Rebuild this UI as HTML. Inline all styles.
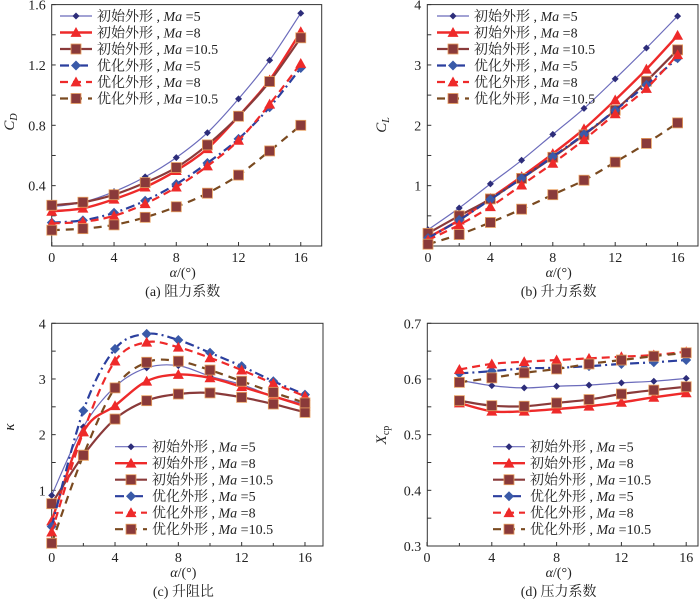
<!DOCTYPE html>
<html><head><meta charset="utf-8"><style>
html,body{margin:0;padding:0;background:#fff}
svg{display:block}
text{font-family:"Liberation Serif","Noto Serif CJK SC","Noto Sans CJK SC",serif;fill:#222}
</style></head><body>
<svg id="chart" width="700" height="599" viewBox="0 0 700 599" xmlns="http://www.w3.org/2000/svg"></svg>
<script>
const alphaA=[0,2,4,6,8,10,12,14,16];
const alphaD=[2,4,6,8,10,12,14,16];
const seriesNames=["初始外形","初始外形","初始外形","优化外形","优化外形","优化外形"];
const machNames=["5","8","10.5","5","8","10.5"];
const cdInit5=[0.26,0.29,0.36,0.458,0.586,0.751,0.975,1.231,1.543];
const cdInit8=[0.23,0.25,0.31,0.39,0.50,0.645,0.86,1.10,1.42];
const cdInit105=[0.27,0.29,0.34,0.42,0.52,0.67,0.86,1.09,1.38];
const cdOpt5=[0.155,0.17,0.22,0.30,0.41,0.55,0.71,0.92,1.18];
const cdOpt8=[0.15,0.16,0.20,0.28,0.39,0.53,0.70,0.94,1.21];
const cdOpt105=[0.105,0.115,0.14,0.19,0.26,0.35,0.47,0.63,0.80];
const clInit5=[0.27,0.63,1.03,1.42,1.85,2.28,2.77,3.28,3.81];
const clInit8=[0.14,0.43,0.79,1.15,1.53,1.94,2.42,2.93,3.49];
const clInit105=[0.21,0.50,0.78,1.12,1.47,1.84,2.25,2.73,3.25];
const clOpt5=[0.13,0.43,0.77,1.12,1.48,1.85,2.25,2.67,3.11];
const clOpt8=[0.10,0.35,0.65,1.01,1.37,1.76,2.19,2.61,3.17];
const clOpt105=[0.03,0.19,0.39,0.61,0.85,1.09,1.39,1.70,2.04];
const kInit5=[0.91,2.14,2.86,3.20,3.24,3.05,2.90,2.69,2.55];
const kInit8=[0.45,2.05,2.52,2.96,3.08,3.02,2.86,2.69,2.51];
const kInit105=[0.76,1.63,2.28,2.61,2.73,2.75,2.67,2.55,2.40];
const kOpt5=[0.35,2.43,3.54,3.81,3.70,3.47,3.23,2.96,2.72];
const kOpt8=[0.25,2.05,3.32,3.66,3.57,3.38,3.16,2.92,2.69];
const kOpt105=[0.05,1.63,2.84,3.30,3.32,3.16,2.96,2.76,2.57];
const xInit5=[0.598,0.588,0.584,0.587,0.589,0.593,0.596,0.601];
const xInit8=[0.557,0.542,0.542,0.546,0.551,0.558,0.567,0.575];
const xInit105=[0.561,0.552,0.551,0.557,0.563,0.573,0.580,0.586];
const xOpt5=[0.610,0.614,0.619,0.620,0.623,0.627,0.630,0.634];
const xOpt8=[0.617,0.627,0.631,0.634,0.637,0.640,0.643,0.649];
const xOpt105=[0.594,0.602,0.611,0.618,0.627,0.634,0.641,0.647];
const xTicks=[0,4,8,12,16];
const xMinorTicks=[2,6,10,14];
const yTicksA=[0.4,0.8,1.2,1.6];
const yTicksB=[1,2,3,4];
const yTicksC=[1,2,3,4];
const yTicksD=[0.3,0.4,0.5,0.6,0.7];

const NS="http://www.w3.org/2000/svg";
const svg=document.getElementById('chart');
function mk(tag,attrs,parent){const e=document.createElementNS(NS,tag);for(const k in attrs)e.setAttribute(k,attrs[k]);(parent||svg).appendChild(e);return e;}
const styles=[
 {c:"#6b6bbb",w:1.2,dash:"",m:"diamond",mc:"#2d2d7a",ms:3.5},
 {c:"#ee2a2a",w:2.4,dash:"",m:"tri",mc:"#ee2a2a",ms:5.5},
 {c:"#8a3a3a",w:2.2,dash:"",m:"sq",mc:"#8a3a3a",ms:5},
 {c:"#2b3f9e",w:2.2,dash:"9,4,2,4",m:"diamond",mc:"#3a5aa8",ms:5},
 {c:"#ee2a2a",w:2.2,dash:"8,5",m:"tri",mc:"#ee2a2a",ms:5.5},
 {c:"#7a4a20",w:2.2,dash:"8,6",m:"sq",mc:"#8a3a3a",ms:5}
];
function marker(g,x,y,s){
 let e;
 if(s.m==="diamond")e=mk('path',{d:`M${x},${y-s.ms}L${x+s.ms},${y}L${x},${y+s.ms}L${x-s.ms},${y}Z`,fill:s.mc},g);
 else if(s.m==="tri")e=mk('path',{d:`M${x},${y-s.ms}L${x+s.ms},${y+s.ms*0.8}L${x-s.ms},${y+s.ms*0.8}Z`,fill:s.mc},g);
 else e=mk('rect',{x:x-s.ms,y:y-s.ms,width:2*s.ms,height:2*s.ms,fill:s.mc,stroke:"#e8a060","stroke-width":0.8},g);
 
 
}
function spline(pts){
 let d=`M${pts[0][0]},${pts[0][1]}`;
 for(let i=0;i<pts.length-1;i++){
  const p0=pts[Math.max(0,i-1)],p1=pts[i],p2=pts[i+1],p3=pts[Math.min(pts.length-1,i+2)];
  const c1=[p1[0]+(p2[0]-p0[0])/6,p1[1]+(p2[1]-p0[1])/6];
  const c2=[p2[0]-(p3[0]-p1[0])/6,p2[1]-(p3[1]-p1[1])/6];
  d+=`C${c1[0]},${c1[1]} ${c2[0]},${c2[1]} ${p2[0]},${p2[1]}`;
 }
 return d;
}
function panel(o){
 const g=mk('g',{});
 
 
 const sx=v=>o.x0+(v-o.xmin)*o.xs, sy=v=>o.yb-(v-o.ymin)/(o.ymax-o.ymin)*(o.yb-o.yt);
 const fr=mk('rect',{x:o.L,y:o.yt,width:o.R-o.L,height:o.yb-o.yt,fill:"none",stroke:"#333","stroke-width":1},g);
 
 const step=o.yTicks[1]-o.yTicks[0];
 for(let v=o.ymin;v<=o.ymax+1e-9;v+=step/2){mk('line',{x1:o.L,x2:o.L+4,y1:sy(v),y2:sy(v),stroke:"#333"},g);}
 o.yTicks.forEach(v=>{const t=mk('text',{x:o.L-6,y:sy(v)+5,"text-anchor":"end","font-size":14},g);t.textContent=o.fmt(v);
  });
 xMinorTicks.forEach(v=>{mk('line',{x1:sx(v),x2:sx(v),y1:o.yb,y2:o.yb-3,stroke:"#333"},g);});
 xTicks.forEach(v=>{mk('line',{x1:sx(v),x2:sx(v),y1:o.yb,y2:o.yb-4,stroke:"#333"},g);
  const t=mk('text',{x:sx(v),y:o.yb+16,"text-anchor":"middle","font-size":14},g);t.textContent=v;
  });
 const xt=mk('text',{x:(o.L+o.R)/2-4,y:o.yb+31,"text-anchor":"middle","font-size":14},g);
 xt.innerHTML='<tspan font-style="italic">α</tspan>/(°)';
 
 const cap=mk('text',{x:(o.L+o.R)/2-4,y:o.yb+50,"text-anchor":"middle","font-size":14},g);cap.textContent=o.caption;
 
 const yt=mk('text',{transform:`translate(${o.ytx},${o.yty}) rotate(-90)`,"text-anchor":"middle","font-size":15},g);
 yt.innerHTML=o.ytitle;
 
 o.series.forEach((arr,i)=>{
  const s=styles[i];const pts=arr.map((v,j)=>[sx(o.xs_[j]),sy(v)]);
  const p=mk('path',{d:spline(pts),fill:"none",stroke:s.c,"stroke-width":s.w,"stroke-dasharray":s.dash},g);
  
  pts.forEach(q=>marker(g,q[0],q[1],s));
 });
 const lg=mk('g',{},g);
 
 styles.forEach((s,i)=>{
  const y=o.ly+i*16.5;
  mk('line',{x1:o.lx,x2:o.lx+32,y1:y,y2:y,stroke:s.c,"stroke-width":s.w,"stroke-dasharray":s.dash},lg);
  marker(lg,o.lx+16,y,s);
  const t=mk('text',{x:o.lx+37,y:y+5,"font-size":14},lg);
  t.innerHTML=seriesNames[i]+' , <tspan font-style="italic">Ma</tspan> ='+machNames[i];
  
 });
}
panel({name:'panel-drag-coefficient',L:51.7,R:321.7,yt:4.6,yb:246,x0:51.8,xmin:0,xs:15.56,ymin:0,ymax:1.6,yTicks:yTicksA,fmt:v=>v.toFixed(1),
 caption:'(a) 阻力系数',ytitle:'<tspan font-style="italic">C</tspan><tspan font-size="10" dy="3" font-style="italic">D</tspan>',ytx:14,yty:122,
 series:[cdInit5,cdInit8,cdInit105,cdOpt5,cdOpt8,cdOpt105],xs_:alphaA,lx:60,ly:16});
panel({name:'panel-lift-coefficient',L:427.3,R:698,yt:4.6,yb:246,x0:428,xmin:0,xs:15.6,ymin:0,ymax:4,yTicks:yTicksB,fmt:v=>v,
 caption:'(b) 升力系数',ytitle:'<tspan font-style="italic">C</tspan><tspan font-size="10" dy="3" font-style="italic">L</tspan>',ytx:386,yty:125,
 series:[clInit5,clInit8,clInit105,clOpt5,clOpt8,clOpt105],xs_:alphaA,lx:437,ly:16});
panel({name:'panel-lift-drag-ratio',L:51.7,R:323,yt:323.3,yb:546,x0:51.7,xmin:0,xs:15.83,ymin:0,ymax:4,yTicks:yTicksC,fmt:v=>v,
 caption:'(c) 升阻比',ytitle:'<tspan font-style="italic">κ</tspan>',ytx:14,yty:427,
 series:[kInit5,kInit8,kInit105,kOpt5,kOpt8,kOpt105],xs_:alphaA,lx:115,ly:446.7});
panel({name:'panel-pressure-center',L:427.3,R:698,yt:323.3,yb:546,x0:427,xmin:0,xs:16.2,ymin:0.3,ymax:0.7,yTicks:yTicksD,fmt:v=>v.toFixed(1),
 caption:'(d) 压力系数',ytitle:'<tspan font-style="italic">X</tspan><tspan font-size="10" dy="3">cp</tspan>',ytx:386,yty:435,
 series:[xInit5,xInit8,xInit105,xOpt5,xOpt8,xOpt105],xs_:alphaD,lx:493,ly:446.7});
</script>
</body></html>
